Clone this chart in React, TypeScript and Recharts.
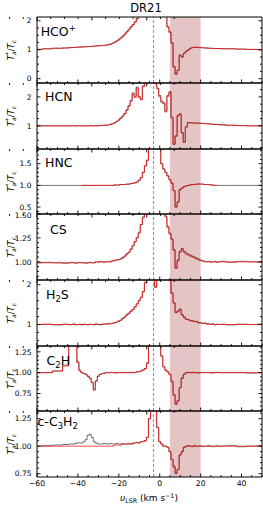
import React from "react";
import { LineChart, Line, XAxis, YAxis, ReferenceArea, ReferenceLine } from "recharts";

const FONT = "DejaVu Sans, sans-serif";

// velocity grid (km/s): coarse in the far wings, 1 km/s in the middle
const vel = [
  -60, -55, -50,
  -45, -44, -43, -42, -41, -40, -39, -38, -37, -36,
  -35, -34, -33, -32, -31, -30, -29, -28, -27, -26,
  -25, -24, -23, -22, -21, -20, -19, -18, -17, -16,
  -15, -14, -13, -12, -11, -10, -9, -8, -7, -6,
  -5, -4, -3, -2, -1, 0, 1, 2, 3, 4,
  5, 6, 7, 8, 9, 10, 11, 12, 13, 14,
  15, 16, 17, 18, 19, 20, 21, 22, 23, 24,
  25, 26, 27, 28, 29, 30,
  35, 40, 45, 50,
];

// HCO+
const hcoMod = [
  1.01, 1.03, 1.05,
  1.06, 1.07, 1.07, 1.08, 1.08, 1.09, 1.09, 1.09, 1.1, 1.1,
  1.11, 1.11, 1.12, 1.12, 1.13, 1.13, 1.14, 1.14, 1.15, 1.16,
  1.17, 1.19, 1.22, 1.25, 1.29, 1.34, 1.4, 1.46, 1.53, 1.61,
  1.7, 1.78, 1.86, 1.95, 2.06, 2.2, 2.4, 2.6, 2.6, 2.6,
  2.6, 2.6, 2.6, 2.6, 2.6, 2.6, 2.6, 2.6, 2.3, 1.8,
  1.62, 1.25, 0.4, 0.17, 0.3, 0.8, 0.76, 0.87, 0.94, 0.99,
  1.04, 1.07, 1.08, 1.08, 1.08, 1.07, 1.07, 1.06, 1.06, 1.05,
  1.05, 1.05, 1.04, 1.04, 1.04, 1.04,
  1.03, 1.02, 1.01, 1.0,
];
const hcoObs = [
  1.01, 1.03, 1.05,
  1.06, 1.07, 1.08, 1.08, 1.08, 1.09, 1.09, 1.1, 1.1, 1.1,
  1.11, 1.11, 1.12, 1.12, 1.13, 1.14, 1.14, 1.15, 1.15, 1.16,
  1.17, 1.19, 1.22, 1.26, 1.3, 1.34, 1.4, 1.47, 1.54, 1.62,
  1.7, 1.79, 1.87, 1.96, 2.08, 2.22, 2.4, 2.6, 2.6, 2.6,
  2.6, 2.6, 2.6, 2.6, 2.6, 2.6, 2.6, 2.6, 2.32, 1.78,
  1.6, 1.22, 0.42, 0.15, 0.28, 0.82, 0.74, 0.88, 0.95, 0.99,
  1.05, 1.07, 1.08, 1.09, 1.08, 1.07, 1.07, 1.06, 1.06, 1.05,
  1.05, 1.04, 1.04, 1.04, 1.04, 1.03,
  1.03, 1.02, 1.01, 1.0,
];

// HCN
const hcnMod = [
  1.0, 1.0, 1.0,
  1.0, 1.0, 1.0, 1.0, 1.0, 1.0, 1.0, 1.0, 1.0, 1.0,
  1.0, 1.0, 1.0, 1.0, 1.0, 1.0, 1.01, 1.01, 1.02, 1.02,
  1.03, 1.05, 1.07, 1.1, 1.15, 1.2, 1.26, 1.33, 1.42, 1.54,
  1.68, 1.85, 2.1, 1.98, 2.3, 1.98, 1.9, 2.35, 2.6, 2.6,
  2.6, 2.6, 2.6, 2.45, 2.3, 2.0, 1.85, 1.8, 1.52, 2.02,
  2.16, 1.3, 0.38, 0.66, 1.34, 1.4, 0.75, 0.45, 0.95, 1.1,
  1.1, 1.1, 1.1, 1.09, 1.09, 1.09, 1.08, 1.08, 1.07, 1.07,
  1.06, 1.06, 1.05, 1.05, 1.04, 1.04,
  1.02, 1.01, 1.0, 1.0,
];
const hcnObs = [
  1.0, 1.0, 1.0,
  1.0, 1.0, 1.01, 1.0, 1.0, 1.0, 1.01, 1.0, 1.0, 1.0,
  1.0, 1.01, 1.0, 1.0, 1.01, 1.0, 1.01, 1.02, 1.02, 1.03,
  1.03, 1.05, 1.08, 1.1, 1.15, 1.2, 1.27, 1.34, 1.43, 1.55,
  1.7, 1.88, 2.14, 2.02, 2.34, 2.02, 1.92, 2.38, 2.6, 2.6,
  2.6, 2.6, 2.6, 2.48, 2.28, 2.05, 1.82, 1.76, 1.48, 2.05,
  2.18, 1.28, 0.36, 0.64, 1.36, 1.42, 0.77, 0.43, 0.97, 1.12,
  1.11, 1.1, 1.1, 1.1, 1.09, 1.09, 1.09, 1.08, 1.07, 1.07,
  1.06, 1.05, 1.05, 1.05, 1.04, 1.03,
  1.02, 1.01, 1.0, 1.0,
];

// HNC (model only fitted between -38 and 28 km/s)
const hncMod = [
  null, null, null,
  null, null, null, null, null, null, null, 1.0, 1.0, 1.0,
  1.0, 1.0, 1.0, 1.0, 1.0, 1.0, 1.0, 1.0, 1.0, 1.0,
  1.0, 1.0, 1.0, 1.01, 1.01, 1.01, 1.02, 1.02, 1.02, 1.03,
  1.03, 1.04, 1.05, 1.06, 1.08, 1.12, 1.18, 1.3, 1.45, 1.58,
  2.0, 2.2, 2.2, 2.2, 2.2, 2.2, 1.5, 1.38, 1.3, 1.22,
  1.13, 1.05, 0.88, 0.5, 0.62, 0.9, 0.94, 0.97, 0.99, 1.0,
  1.01, 1.02, 1.02, 1.03, 1.03, 1.03, 1.03, 1.02, 1.02, 1.02,
  1.01, 1.01, 1.0, 1.0, null, null,
  null, null, null, null,
];
const hncObs = [
  1.0, 1.0, 1.0,
  1.0, 1.0, 1.0, 1.0, 1.0, 1.0, 1.0, 1.0, 1.0, 1.0,
  1.0, 1.0, 1.0, 1.0, 1.0, 1.0, 1.0, 1.0, 1.0, 1.0,
  1.0, 1.0, 1.0, 1.01, 1.01, 1.01, 1.02, 1.02, 1.02, 1.03,
  1.03, 1.04, 1.05, 1.06, 1.08, 1.12, 1.18, 1.3, 1.45, 1.58,
  2.0, 2.2, 2.2, 2.2, 2.2, 2.2, 1.5, 1.38, 1.3, 1.22,
  1.13, 1.05, 0.88, 0.5, 0.62, 0.9, 0.94, 0.97, 0.99, 1.0,
  1.01, 1.02, 1.02, 1.03, 1.03, 1.03, 1.03, 1.02, 1.02, 1.02,
  1.01, 1.01, 1.0, 1.0, 1.0, 1.0,
  1.0, 1.0, 1.0, 1.0,
];

// CS
const csMod = [
  0.99, 0.99, 0.99,
  0.99, 0.99, 0.99, 0.99, 0.99, 0.99, 0.99, 0.99, 0.99, 0.99,
  0.99, 0.99, 0.99, 0.99, 1.0, 1.0, 1.0, 1.0, 1.0, 1.0,
  1.0, 1.0, 1.01, 1.01, 1.02, 1.02, 1.03, 1.04, 1.06, 1.08,
  1.1, 1.13, 1.17, 1.21, 1.25, 1.3, 1.39, 1.46, 1.55, 1.7,
  1.8, 1.8, 1.8, 1.8, 1.8, 1.8, 1.8, 1.6, 1.47, 1.36,
  1.29, 1.23, 1.12, 0.93, 1.01, 1.1, 1.13, 1.1, 1.08, 1.07,
  1.06, 1.05, 1.04, 1.03, 1.02, 1.01, 1.01, 1.0, 1.0, 1.0,
  1.0, 1.0, 1.0, 1.0, 1.0, 1.0,
  1.0, 1.0, 1.0, 1.0,
];
const csObs = [
  0.99, 0.995, 0.99,
  0.985, 0.99, 0.995, 0.99, 0.985, 0.99, 0.995, 0.99, 0.99, 0.985,
  0.99, 0.995, 0.99, 0.99, 1.0, 0.995, 1.005, 1.0, 0.995, 1.0,
  1.005, 1.0, 1.01, 1.015, 1.02, 1.025, 1.03, 1.045, 1.06, 1.085,
  1.1, 1.135, 1.17, 1.21, 1.255, 1.31, 1.39, 1.47, 1.56, 1.7,
  1.8, 1.8, 1.8, 1.8, 1.8, 1.8, 1.8, 1.61, 1.48, 1.37,
  1.3, 1.24, 1.13, 0.94, 1.02, 1.11, 1.14, 1.11, 1.09, 1.08,
  1.07, 1.06, 1.05, 1.04, 1.03, 1.02, 1.01, 1.005, 1.0, 1.005,
  0.995, 1.0, 1.005, 0.995, 1.0, 1.005,
  0.995, 1.005, 1.0, 0.995,
];

// H2S
const h2sMod = [
  1.0, 1.0, 1.0,
  1.0, 1.0, 1.0, 1.0, 1.0, 1.0, 1.0, 1.0, 1.0, 1.0,
  1.0, 1.0, 1.0, 1.0, 1.0, 1.0, 1.0, 1.0, 1.01, 1.01,
  1.02, 1.02, 1.03, 1.04, 1.06, 1.08, 1.11, 1.15, 1.19, 1.24,
  1.29, 1.33, 1.38, 1.44, 1.52, 1.6, 1.68, 1.82, 2.05, 2.3,
  2.3, 2.3, 2.3, 1.95, 2.3, 2.3, 2.3, 2.3, 2.3, 2.3,
  2.1, 1.78, 1.55, 1.32, 1.32, 1.38, 1.25, 1.18, 1.14, 1.12,
  1.1, 1.09, 1.08, 1.07, 1.05, 1.04, 1.03, 1.03, 1.02, 1.01,
  1.01, 1.01, 1.0, 1.0, 1.0, 1.0,
  1.0, 1.0, 1.0, 1.0,
];
const h2sObs = [
  1.0, 1.01, 0.99,
  1.01, 0.99, 1.0, 1.02, 0.99, 1.0, 1.01, 0.99, 1.01, 1.0,
  0.99, 1.01, 1.0, 0.99, 1.02, 1.0, 0.99, 1.01, 1.01, 1.02,
  1.01, 1.03, 1.03, 1.05, 1.06, 1.09, 1.11, 1.16, 1.19, 1.25,
  1.28, 1.34, 1.38, 1.45, 1.52, 1.61, 1.69, 1.83, 2.06, 2.3,
  2.3, 2.3, 2.3, 1.93, 2.3, 2.3, 2.3, 2.3, 2.3, 2.3,
  2.12, 1.8, 1.54, 1.3, 1.34, 1.39, 1.24, 1.19, 1.13, 1.13,
  1.09, 1.1, 1.07, 1.08, 1.04, 1.05, 1.02, 1.04, 1.01, 1.02,
  1.0, 1.02, 0.99, 1.01, 1.0, 1.01,
  0.99, 1.01, 1.0, 1.01,
];

// C2H
const c2hMod = [
  1.0, 1.0, 1.02,
  1.08, 1.6, 1.8, 1.8, 1.6, 1.12, 1.02, 1.0, 0.99, 0.98,
  0.96, 0.93, 0.88, 0.8, 0.9, 0.96, 0.98, 0.99, 0.99, 1.0,
  1.0, 1.0, 1.0, 1.0, 1.0, 1.0, 1.0, 1.0, 1.0, 1.0,
  1.0, 1.0, 1.0, 1.0, 1.01, 1.01, 1.02, 1.03, 1.05, 1.11,
  1.6, 2.0, 2.0, 2.0, 2.0, 2.0, 1.2, 1.07, 1.03, 1.01,
  0.98, 0.9, 0.74, 0.63, 0.67, 0.82, 0.94, 0.98, 1.0, 1.0,
  1.0, 1.0, 1.0, 1.0, 1.0, 1.0, 1.0, 1.0, 1.0, 1.0,
  1.0, 1.0, 1.0, 1.0, 1.0, 1.0,
  1.0, 1.0, 1.0, 1.0,
];
const c2hObs = [
  1.0, 1.0, 1.02,
  1.09, 1.6, 1.8, 1.8, 1.6, 1.13, 1.03, 1.0, 0.99, 0.98,
  0.955, 0.935, 0.885, 0.79, 0.9, 0.955, 0.98, 0.99, 0.995, 1.0,
  1.0, 1.005, 1.0, 1.0, 0.995, 1.0, 1.0, 1.005, 1.0, 1.0,
  1.0, 1.005, 1.0, 1.005, 1.01, 1.015, 1.02, 1.035, 1.05, 1.12,
  1.6, 2.0, 2.0, 2.0, 2.0, 2.0, 1.2, 1.07, 1.03, 1.01,
  0.98, 0.89, 0.73, 0.62, 0.66, 0.82, 0.93, 0.98, 1.0, 1.005,
  1.0, 1.005, 1.0, 1.0, 0.995, 1.0, 1.005, 1.0, 1.0, 1.0,
  1.0, 0.995, 1.0, 1.005, 1.0, 1.0,
  1.0, 1.0, 0.995, 1.0,
];

// c-C3H2
const c3h2Mod = [
  1.0, 1.0, 1.0,
  1.0, 1.0, 1.0, 1.0, 1.0, 1.0, 1.0, 1.0, 1.0, 1.0,
  1.0, 1.0, 1.0, 1.0, 1.0, 1.0, 1.0, 1.0, 1.0, 1.0,
  1.0, 1.0, 1.0, 1.01, 1.01, 1.01, 1.01, 1.02, 1.02, 1.02,
  1.02, 1.02, 1.02, 1.03, 1.03, 1.03, 1.04, 1.04, 1.05, 1.08,
  1.25, 1.5, 1.5, 1.5, 1.17, 1.04, 1.02, 1.0, 1.0, 0.99,
  0.95, 0.88, 0.82, 0.76, 0.79, 0.92, 0.95, 0.99, 1.0, 1.0,
  1.0, 1.0, 1.0, 1.0, 1.0, 1.0, 1.0, 1.0, 1.0, 1.0,
  1.0, 1.0, 1.0, 1.0, 1.0, 1.0,
  1.0, 1.0, 1.0, 1.0,
];
const c3h2Obs = [
  1.0, 1.005, 1.01,
  1.015, 1.02, 1.02, 1.02, 1.025, 1.03, 1.03, 1.03, 1.04, 1.06,
  1.1, 1.11, 1.08, 1.04, 1.03, 1.02, 1.02, 1.02, 1.025, 1.02,
  1.02, 1.025, 1.02, 1.02, 1.025, 1.02, 1.02, 1.025, 1.02, 1.02,
  1.025, 1.02, 1.03, 1.03, 1.035, 1.03, 1.04, 1.045, 1.05, 1.08,
  1.25, 1.5, 1.5, 1.5, 1.17, 1.04, 1.02, 1.0, 1.0, 0.99,
  0.95, 0.88, 0.81, 0.75, 0.79, 0.92, 0.95, 0.99, 1.0, 1.005,
  1.0, 0.995, 1.005, 1.0, 1.0, 1.005, 0.995, 1.0, 1.0, 1.005,
  1.0, 0.995, 1.0, 1.005, 1.0, 1.0,
  1.005, 0.995, 1.0, 1.005,
];

const xTicks = [-60, -55, -50, -45, -40, -35, -30, -25, -20, -15, -10, -5, 0, 5, 10, 15, 20, 25, 30, 35, 40, 45, 50];
const xMajor = [-60, -40, -20, 0, 20, 40];

type Panel = {
  key: string;
  mod: (number | null)[];
  obs: (number | null)[];
  domain: [number, number];
  major: number[];
  minor: number;
  digits: number;
};

const panels: Panel[] = [
  { key: "hco", mod: hcoMod, obs: hcoObs, domain: [-0.15, 2.13], major: [0, 1, 2], minor: 0.25, digits: 0 },
  { key: "hcn", mod: hcnMod, obs: hcnObs, domain: [0.2, 2.48], major: [1, 2], minor: 0.25, digits: 0 },
  { key: "hnc", mod: hncMod, obs: hncObs, domain: [0.34, 1.84], major: [0.5, 1.0, 1.5], minor: 0.1, digits: 1 },
  { key: "cs", mod: csMod, obs: csObs, domain: [0.81, 1.5], major: [1.0, 1.25, 1.5], minor: 0.05, digits: 2 },
  { key: "h2s", mod: h2sMod, obs: h2sObs, domain: [0.46, 2.12], major: [1, 2], minor: 0.2, digits: 0 },
  { key: "c2h", mod: c2hMod, obs: c2hObs, domain: [0.54, 1.32], major: [0.75, 1.0, 1.25], minor: 0.05, digits: 2 },
  { key: "c3h2", mod: c3h2Mod, obs: c3h2Obs, domain: [0.72, 1.32], major: [0.75, 1.0, 1.25], minor: 0.05, digits: 2 },
];

// panel edges in page pixels
const edges = [17, 83, 149, 214, 280, 346, 411, 477];

function yTicksFor(domain: [number, number], step: number) {
  const out: number[] = [];
  const a = Math.ceil(domain[0] / step - 1e-6);
  const b = Math.floor(domain[1] / step + 1e-6);
  for (let k = a; k <= b; k++) out.push(+(k * step).toFixed(4));
  return out;
}

const fmtX = (v: number) => (v < 0 ? `\u2212${Math.abs(v)}` : `${v}`);

function xTick(side: "bottom" | "top", labels: boolean) {
  return (props: any) => {
    const { x, y, payload } = props;
    const major = xMajor.includes(payload.value);
    const len = major ? 3.5 : 2;
    const dir = side === "bottom" ? -1 : 1;
    return (
      <g>
        <line x1={x} x2={x} y1={y} y2={y + dir * len} stroke="#000" strokeWidth={0.9} />
        {labels && major ? (
          <text x={x} y={y + 8.6} textAnchor="middle" fontSize={7.7} fontFamily={FONT} fill="#000">
            {fmtX(payload.value)}
          </text>
        ) : null}
      </g>
    );
  };
}

function yTick(side: "left" | "right", p: Panel) {
  return (props: any) => {
    const { x, y, payload } = props;
    const major = p.major.some((m) => Math.abs(m - payload.value) < 1e-6);
    const atTop = Math.abs(payload.value - p.domain[1]) < 1e-6;
    const len = major ? 3.5 : 2;
    const dir = side === "left" ? 1 : -1;
    return (
      <g>
        <line x1={x} x2={x + dir * len} y1={y} y2={y} stroke="#000" strokeWidth={0.9} />
        {side === "left" && major ? (
          <text
            x={x - 5.5}
            y={y + (atTop ? 1 : 0)}
            dy="0.36em"
            textAnchor="end"
            fontSize={7.5}
            fontFamily={FONT}
            fill="#000"
          >
            {payload.value.toFixed(p.digits)}
          </text>
        ) : null}
      </g>
    );
  };
}

function SpectrumPanel({ p, idx }: { p: Panel; idx: number }) {
  const last = idx === panels.length - 1;
  const top = edges[idx];
  const h = edges[idx + 1] - edges[idx];
  const padTop = 6;
  const padBottom = last ? 16 : 6;
  const rows = vel.map((v, i) => ({ v, obs: p.obs[i], mod: p.mod[i] }));
  const yt = yTicksFor(p.domain, p.minor);
  return (
    <div style={{ position: "absolute", left: 0, top: top - padTop }}>
      <LineChart
        width={263}
        height={h + padTop + padBottom}
        data={rows}
        margin={{ top: padTop - 1, right: 0, bottom: padBottom - 1, left: 0 }}
      >
        <XAxis
          dataKey="v"
          type="number"
          domain={[-60, 50]}
          ticks={xTicks}
          interval={0}
          height={1}
          tickSize={0}
          tickMargin={0}
          tickLine={false}
          tick={xTick("bottom", last)}
          axisLine={{ stroke: "#000", strokeWidth: 1 }}
          allowDataOverflow
        />
        <XAxis
          xAxisId="top"
          orientation="top"
          type="number"
          domain={[-60, 50]}
          ticks={xTicks}
          interval={0}
          height={1}
          tickSize={0}
          tickMargin={0}
          tickLine={false}
          tick={xTick("top", false)}
          axisLine={{ stroke: "#000", strokeWidth: 1 }}
          allowDataOverflow
        />
        <YAxis
          type="number"
          domain={p.domain}
          ticks={yt}
          interval={0}
          width={37}
          tickSize={0}
          tickMargin={0}
          tickLine={false}
          tick={yTick("left", p)}
          axisLine={{ stroke: "#000", strokeWidth: 1 }}
          allowDataOverflow
        />
        <YAxis
          yAxisId="right"
          orientation="right"
          type="number"
          domain={p.domain}
          ticks={yt}
          interval={0}
          width={1}
          tickSize={0}
          tickMargin={0}
          tickLine={false}
          tick={yTick("right", p)}
          axisLine={{ stroke: "#000", strokeWidth: 1 }}
          allowDataOverflow
        />
        <ReferenceArea x1={5} x2={20} fill="#a83a40" fillOpacity={0.3} stroke="none" />
        <ReferenceLine x={-3} stroke="#8a8a8a" strokeDasharray="3 2" strokeWidth={1} />
        <Line
          dataKey="obs"
          type="step"
          stroke="#000"
          strokeOpacity={0.55}
          strokeWidth={1}
          dot={false}
          isAnimationActive={false}
        />
        <Line
          dataKey="mod"
          type="step"
          stroke="#ff0000"
          strokeOpacity={0.7}
          strokeWidth={1}
          dot={false}
          isAnimationActive={false}
        />
      </LineChart>
    </div>
  );
}

function YLabel({ cy }: { cy: number }) {
  return (
    <text x={13.5} y={cy} transform={`rotate(-90 13.5 ${cy})`} textAnchor="middle" fontSize={8.5}>
      <tspan fontStyle="italic">T</tspan>
      <tspan fontSize={6} dy={-3.5}>*</tspan>
      <tspan fontSize={6} dx={-3} dy={5.8} fontStyle="italic">a</tspan>
      <tspan dy={-2.3}>/</tspan>
      <tspan fontStyle="italic">T</tspan>
      <tspan fontSize={6} dy={2}>c</tspan>
    </text>
  );
}

export default function App() {
  return (
    <div style={{ position: "absolute", left: 0, top: 0, width: 263, height: 506, background: "#fff" }}>
      {panels.map((p, i) => (
        <SpectrumPanel key={p.key} p={p} idx={i} />
      ))}
      <svg
        width={263}
        height={506}
        style={{ position: "absolute", left: 0, top: 0, pointerEvents: "none" }}
        fontFamily={FONT}
        fill="#000"
      >
        <text x={146} y={11.6} textAnchor="middle" fontSize={11.5}>DR21</text>

        <text x={40.7} y={35.7} fontSize={12.5}>
          HCO<tspan fontSize={8.5} dy={-5}>+</tspan>
        </text>
        <text x={45} y={100.5} fontSize={12.5}>HCN</text>
        <text x={45} y={167} fontSize={12.5}>HNC</text>
        <text x={50} y={234} fontSize={12.5}>CS</text>
        <text x={46} y={299} fontSize={12.5}>
          H<tspan fontSize={8.5} dy={3}>2</tspan><tspan dy={-3}>S</tspan>
        </text>
        <text x={46.5} y={364.5} fontSize={12.5}>
          C<tspan fontSize={8.5} dy={3}>2</tspan><tspan dy={-3}>H</tspan>
        </text>
        <text x={37.5} y={426} fontSize={12.5}>
          c-C<tspan fontSize={8.5} dy={3}>3</tspan><tspan dy={-3}>H</tspan>
          <tspan fontSize={8.5} dy={3}>2</tspan>
        </text>

        {panels.map((p, i) => (
          <YLabel key={p.key} cy={(edges[i] + edges[i + 1]) / 2} />
        ))}

        <text x={149} y={501} textAnchor="middle" fontSize={9}>
          <tspan fontStyle="italic">υ</tspan>
          <tspan fontSize={6.3} dy={2}>LSR</tspan>
          <tspan dy={-2}> (km s</tspan>
          <tspan fontSize={6.3} dy={-3.5}>−1</tspan>
          <tspan dy={3.5}>)</tspan>
        </text>
      </svg>
    </div>
  );
}
